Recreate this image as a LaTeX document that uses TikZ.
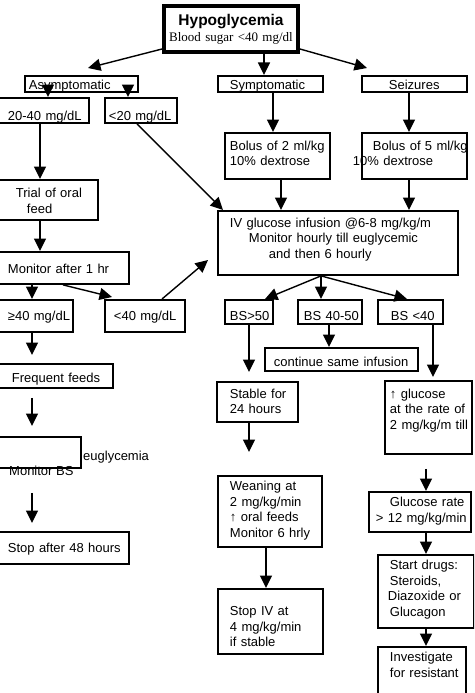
\documentclass[tikz,border=0pt]{standalone}
\usepackage{fontspec}
\setmainfont{Liberation Serif}
\setsansfont{Liberation Sans}
\usetikzlibrary{arrows.meta}
\newcommand\myline[2]{\mbox{\hspace*{#1pt}#2}}
\newcommand\mybox[8][]{%
  \pgfmathsetmacro\mydp{#6-#7}%
  \node[bx,#1,text width=#5pt,text height=#7pt,text depth=\mydp pt] (#2) at (#3,#4) {#8};}
\begin{document}
\begin{tikzpicture}[x=1pt,y=-1pt,
  bx/.style={draw,line width=1.9pt,rectangle,anchor=north west,inner sep=0pt,align=left,
    font=\sffamily\fontsize{13}{15.5}\selectfont},
  lbl/.style={inner sep=0pt,font=\sffamily\fontsize{13}{15.5}\selectfont},
  arr/.style={-{Triangle[length=12.5pt,width=12pt]},line width=1.4pt}]
\useasboundingbox (0,0) rectangle (474,693);
\clip (0,0) rectangle (474,693);
% top
\mybox[line width=4pt,align=center,font=\sffamily\fontsize{13}{16}\selectfont]{hypo}{162}{4}{134}{46}{20}{{\fontsize{15.5}{16}\selectfont\bfseries Hypoglycemia}\\{\rmfamily Blood sugar <40 mg/dl}}
\mybox{asym}{24}{75}{113}{16}{13.5}{\myline{4}{Asymptomatic}}
\mybox{symp}{217}{75}{105}{16}{13.5}{\myline{12}{Symptomatic}}
\mybox{seiz}{361}{75}{105}{16}{13.5}{\myline{27}{Seizures}}
% left column
\mybox{ra}{-3}{97}{91}{25}{22.5}{\myline{10}{20-40 mg/dL}}
\mybox{rb}{104}{97}{72}{25}{22.5}{\myline{4}{<20 mg/dL}}
\mybox{trial}{-3}{179}{100}{40}{18}{\myline{18}{Trial of oral}\\\myline{29}{feed}}
\mybox{mon}{-3}{251}{131}{32}{22}{\myline{10}{Monitor after 1 hr}}
\mybox{ge}{-3}{299}{75}{32}{21}{\myline{10}{≥40 mg/dL}}
\mybox{lt}{104}{299}{80}{32}{21}{\myline{9}{<40 mg/dL}}
\mybox{freq}{-3}{363}{115}{24}{19}{\myline{14}{Frequent feeds}}
\mybox{monbs}{-3}{436}{83}{31}{20}{}
\node[lbl,anchor=base west] (eug) at (83,460) {euglycemia};
\node[lbl,anchor=base west] (mbs) at (9,475) {Monitor BS};
\mybox{stopa}{-3}{531}{131}{32}{21}{\myline{10}{Stop after 48 hours}}
% middle / right
\mybox{bola}{224}{132}{105}{46}{17.5}{\myline{5}{Bolus of 2 ml/kg}\\\myline{5}{10\% dextrose}}
\mybox{bolb}{361}{132}{105}{46}{17.5}{\myline{11}{Bolus of 5 ml/kg}\\\myline{-9}{10\% dextrose}}
\mybox{iv}{217}{210}{240}{64}{16.5}{\myline{12}{IV glucose infusion @6-8 mg/kg/m}\\\myline{31}{Monitor hourly till euglycemic}\\\myline{51}{and then 6 hourly}}
\mybox{bsa}{224}{299}{48}{24}{21}{\myline{5}{BS>50}}
\mybox{bsb}{297}{299}{64}{24}{21}{\myline{6}{BS 40-50}}
\mybox{bsc}{377}{299}{65}{24}{21}{\myline{13}{BS <40}}
\mybox{cont}{264}{347}{153}{23}{19}{\myline{9}{continue same infusion}}
\mybox{stable}{216}{381}{81}{40}{16.5}{\myline{13}{Stable for}\\\myline{13}{24 hours}}
\mybox{incr}{384}{380}{87}{73}{17.5}{\myline{5}{↑ glucose}\\\myline{5}{at the rate of}\\\myline{5}{2 mg/kg/m till}}
\mybox{wean}{217}{475}{104}{71}{15}{\myline{12}{Weaning at}\\\myline{12}{2 mg/kg/min}\\\myline{12}{↑ oral feeds}\\\myline{12}{Monitor 6 hrly}}
\mybox{stopiv}{217}{588}{105}{65}{27}{\myline{12}{Stop IV at}\\\myline{12}{4 mg/kg/min}\\\myline{12}{if stable}}
\mybox{glr}{368}{491}{102}{40}{15}{\myline{21}{Glucose rate}\\\myline{7}{> 12 mg/kg/min}}
\mybox{drugs}{377}{554}{96}{73}{15}{\myline{12}{Start drugs:}\\\myline{12}{Steroids,}\\\myline{10}{Diazoxide or}\\\myline{12}{Glucagon}}
\mybox{inv}{377}{646}{88}{70}{15}{\myline{12}{Investigate}\\\myline{12}{for resistant}}
% arrows
\draw[arr] ([yshift=5pt]hypo.south west) -- ([xshift=64pt,yshift=7pt]asym.north west);
\draw[arr] ([xshift=102pt]hypo.south west) -- ([xshift=47pt]symp.north west);
\draw[arr] ([yshift=5pt]hypo.south east) -- ([xshift=6pt,yshift=7pt]seiz.north west);
\draw[arr] ([xshift=24pt,yshift=5pt]asym.south west) -- ([xshift=51pt]ra.north west);
\draw[arr] ([xshift=104pt,yshift=5pt]asym.south west) -- ([xshift=24pt]rb.north west);
\draw[arr] ([xshift=56pt]symp.south west) -- ([xshift=49pt]bola.north west);
\draw[arr] ([xshift=48pt]seiz.south west) -- ([xshift=48pt]bolb.north west);
\draw[arr] ([xshift=57pt]bola.south west) -- ([xshift=64pt]iv.north west);
\draw[arr] ([xshift=48pt]bolb.south west) -- ([xshift=192pt]iv.north west);
\draw[arr] ([xshift=33pt]rb.south west) -- ([xshift=6pt]iv.north west);
\draw[arr] ([xshift=104pt]iv.south west) -- ([xshift=41pt]bsa.north west);
\draw[arr] ([xshift=104pt]iv.south west) -- ([xshift=24pt]bsb.north west);
\draw[arr] ([xshift=104pt]iv.south west) -- ([xshift=30pt]bsc.north west);
\draw[arr] ([xshift=32pt]bsb.south west) -- ([xshift=65pt]cont.north west);
\draw[arr] ([xshift=25pt]bsa.south west) -- ([xshift=33pt,yshift=9pt]stable.north west);
\draw[arr] ([xshift=56pt]bsc.south west) -- ([xshift=49pt,yshift=3pt]incr.north west);
\draw[arr] ([xshift=33pt]stable.south west) -- ([xshift=32pt,yshift=23pt]wean.north west);
\draw[arr] ([xshift=42pt,yshift=-14pt]incr.south west) -- ([xshift=58pt]glr.north west);
\draw[arr] ([xshift=49pt]wean.south west) -- ([xshift=49pt]stopiv.north west);
\draw[arr] ([xshift=58pt]glr.south west) -- ([xshift=49pt]drugs.north west);
\draw[arr] ([xshift=49pt]drugs.south west) -- ([xshift=49pt]inv.north west);
\draw[arr] ([xshift=43pt]ra.south west) -- ([xshift=43pt]trial.north west);
\draw[arr] ([xshift=43pt]trial.south west) -- ([xshift=43pt]mon.north west);
\draw[arr] ([xshift=35pt]mon.south west) -- ([xshift=35pt]ge.north west);
\draw[arr] ([xshift=66pt]mon.south west) -- ([xshift=8pt,yshift=2pt]lt.north west);
\draw[arr] ([xshift=58pt]lt.north west) -- ([xshift=-9pt,yshift=-50pt]iv.north west);
\draw[arr] ([xshift=35pt]ge.south west) -- ([xshift=35pt,yshift=8pt]freq.north west);
\draw[arr] ([xshift=35pt,yshift=-9pt]freq.south west) -- ([xshift=35pt,yshift=10pt]monbs.north west);
\draw[arr] ([xshift=35pt,yshift=-24pt]monbs.south west) -- ([xshift=35pt,yshift=8pt]stopa.north west);
\end{tikzpicture}
\end{document}
